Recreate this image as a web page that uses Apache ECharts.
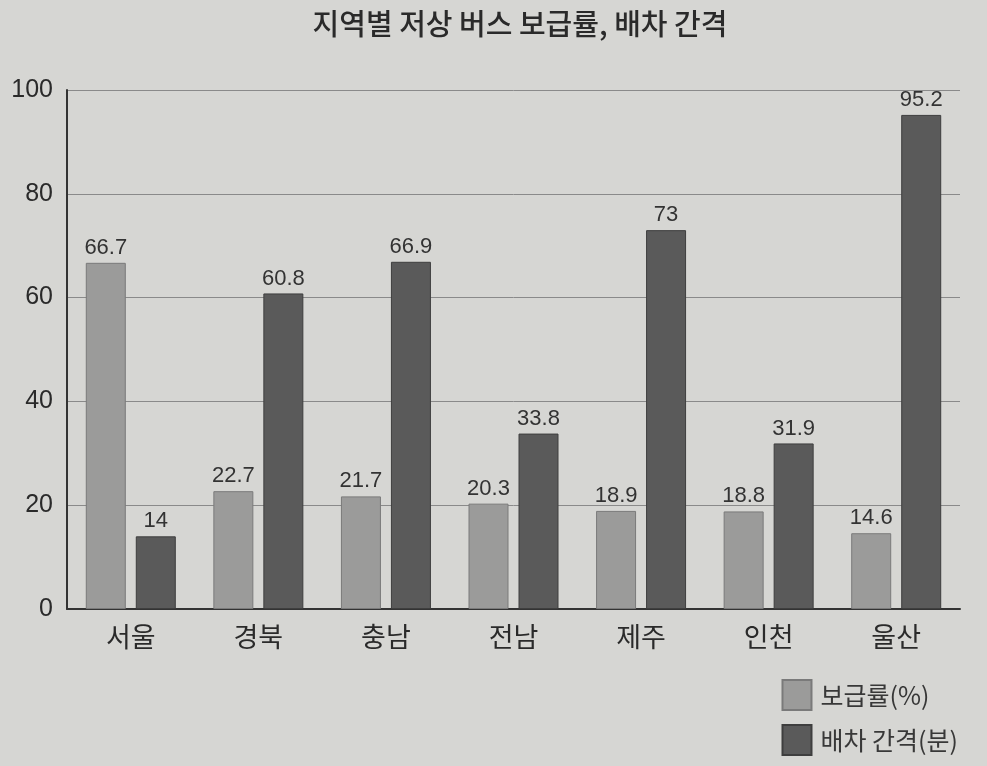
<!DOCTYPE html>
<html><head><meta charset="utf-8">
<script src="https://cdn.jsdelivr.net/npm/echarts@6/dist/echarts.min.js"></script>
<style>html,body{margin:0;padding:0;background:#d6d6d3;}#c{width:987px;height:766px;}</style>
</head><body><div id="c"></div>
<script>
const categories = ['서울','경북','충남','전남','제주','인천','울산'];
const supplyRate = [66.7, 22.7, 21.7, 20.3, 18.9, 18.8, 14.6];
const interval = [14, 60.8, 66.9, 33.8, 73, 31.9, 95.2];
const seriesNames = ['보급률(%)', '배차 간격(분)'];
const font = '"Noto Sans CJK KR", "Noto Sans", sans-serif';
const numFont = '"Liberation Sans", Arial, sans-serif';
const chart = echarts.init(document.getElementById('c'));
const label = {show:true, position:'top', distance:4, color:'#333', fontSize:22, fontFamily:numFont};
chart.setOption({
  backgroundColor:'#d6d6d3',
  animation:false,
  title:{text:'지역별 저상 버스 보급률, 배차 간격', left:515, top:4, textAlign:'center',
    textStyle:{fontSize:29, fontWeight:500, color:'#2a2a2a', fontFamily:font}},
  legend:{orient:'vertical', right:24, bottom:5, itemWidth:29, itemHeight:30, itemGap:13, icon:'rect',
    textStyle:{fontSize:25, color:'#383838', fontFamily:font, padding:[0,0,0,4]}, data:seriesNames},
  grid:{left:67, right:27, top:90, bottom:157},
  xAxis:{type:'category', data:categories,
    axisLine:{lineStyle:{color:'#333', width:2}}, axisTick:{show:false},
    axisLabel:{fontSize:27, color:'#2a2a2a', margin:14, fontFamily:font}},
  yAxis:{type:'value', min:0, max:100, interval:20,
    axisLine:{show:true, lineStyle:{color:'#333', width:2}}, axisTick:{show:false},
    splitLine:{lineStyle:{color:'#8a8a8a', width:1}},
    axisLabel:{fontSize:25, color:'#2a2a2a', margin:14, fontFamily:numFont}},
  series:[
    {name:seriesNames[0], type:'bar', data:supplyRate, barWidth:40, barGap:'25%',
     itemStyle:{color:'#9b9b9a', borderColor:'#7a7a7a', borderWidth:1}, label:label},
    {name:seriesNames[1], type:'bar', data:interval, barWidth:40,
     itemStyle:{color:'#5a5a5a', borderColor:'#3e3e3e', borderWidth:1}, label:label}
  ]
});
</script></body></html>
